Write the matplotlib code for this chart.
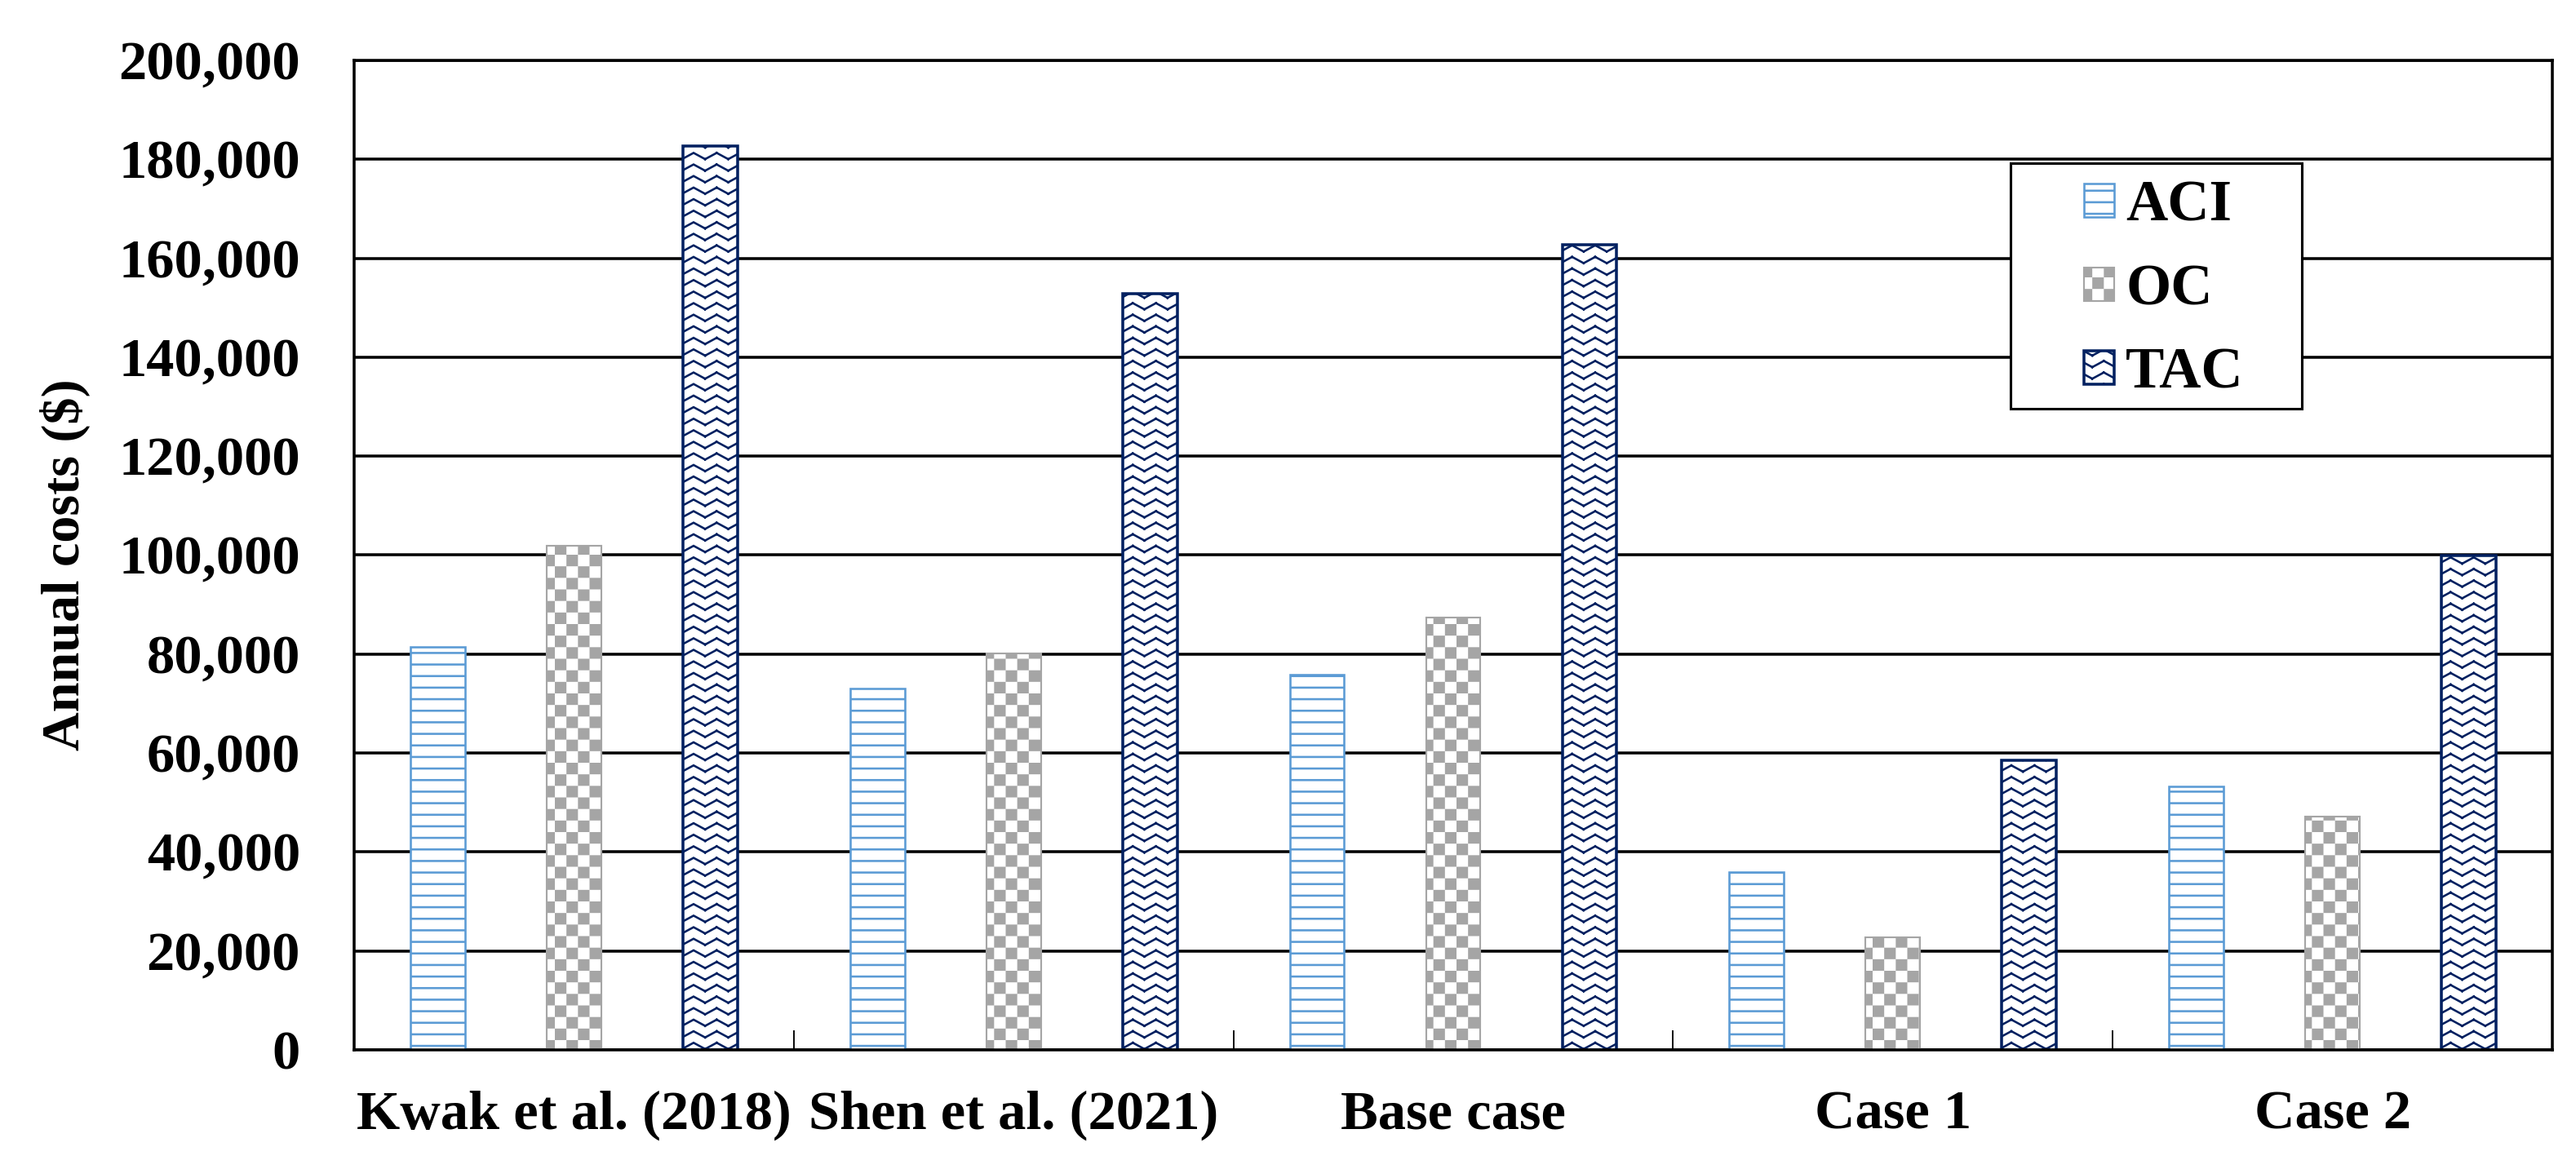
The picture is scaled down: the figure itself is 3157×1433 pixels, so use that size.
import warnings
import numpy as np
import matplotlib
matplotlib.use('Agg')
import matplotlib.pyplot as plt
from matplotlib import hatch as mhatch
from matplotlib.path import Path
from matplotlib.patches import Rectangle
from matplotlib.ticker import FuncFormatter

# ======================= data =======================

categories = ['Kwak et al. (2018)', 'Shen et al. (2021)', 'Base case', 'Case 1', 'Case 2']
series_names = ['ACI', 'OC', 'TAC']
aci = [81400, 73000, 75900, 35900, 53200]
oc = [101900, 80100, 87400, 22700, 47200]
tac = [182700, 152800, 162800, 58500, 99900]
yticks = list(range(0, 200001, 20000))

# ======================= custom hatches =======================
# 'c' -> checkerboard, 'z' -> zigzag (Excel-like pattern fills)


class CheckerHatch(mhatch.HatchPatternBase):

    def __init__(self, hatch, density):
        self.n = hatch.count('c') * density
        self.num_vertices = (self.n * self.n // 2) * 5

    def set_vertices_and_codes(self, vertices, codes):
        n = self.n
        side = 1.0 / n
        trim = plt.rcParams['hatch.linewidth'] / 72.0 / 2
        sq = np.array([[trim, trim], [side - trim, trim],
                       [side - trim, side - trim], [trim, side - trim],
                       [trim, trim]])
        k = 0
        for i in range(n):
            for j in range(n):
                if (i + j) % 2 == 0:
                    vertices[k:k + 5] = sq + [i * side, j * side]
                    codes[k:k + 5] = [Path.MOVETO, Path.LINETO, Path.LINETO,
                                      Path.LINETO, Path.CLOSEPOLY]
                    k += 5


class ZigzagHatch(mhatch.HatchPatternBase):

    def __init__(self, hatch, density):
        self.rows = hatch.count('z') * density
        self.cols = hatch.count('z') * density // 2
        self.num_vertices = self.rows * self.cols * 4

    def set_vertices_and_codes(self, vertices, codes):
        if self.num_vertices == 0:
            return
        dy = 1.0 / self.rows
        p = 1.0 / self.cols
        a = 0.27 * dy
        k = 0
        for j in range(self.rows):
            y0 = (j + 0.5) * dy
            for i in range(self.cols):
                x0 = i * p
                vertices[k:k + 4] = [[x0, y0 + a], [x0 + p / 2, y0 - a],
                                     [x0 + p / 2, y0 - a], [x0 + p, y0 + a]]
                codes[k:k + 4] = [Path.MOVETO, Path.LINETO,
                                  Path.MOVETO, Path.LINETO]
                k += 4


mhatch._hatch_types.append(CheckerHatch)
mhatch._hatch_types.append(ZigzagHatch)
warnings.filterwarnings('ignore', message='hatch must consist')

# ======================= style =======================

plt.rcParams['font.family'] = ['Liberation Serif', 'DejaVu Serif']
plt.rcParams['font.weight'] = 'bold'
plt.rcParams['font.size'] = 29
plt.rcParams['hatch.linewidth'] = 1.1

colors = ['#5B9BD5', '#A5A5A5', '#002060']
hatches = ['--', 'cc', 'zz']
edge_widths = [1.1, 0.9, 1.5]

# ======================= plot =======================

fig = plt.figure(figsize=(3157 / 170, 1433 / 170), dpi=170)
ax = fig.add_axes([0.1375, 0.1019, 0.8533, 0.8465])

x = np.arange(len(categories))
offsets = [-0.31, 0.0, 0.31]
width = 0.124

for vals, name, off, c, h, lw in zip([aci, oc, tac], series_names, offsets,
                                     colors, hatches, edge_widths):
    ax.bar(x + off, vals, width, label=name, facecolor='white',
           edgecolor=c, hatch=h, linewidth=lw, zorder=2)

ax.set_xlim(-0.5, len(categories) - 0.5)
ax.set_ylim(0, 200000)
ax.set_yticks(yticks)
ax.yaxis.set_major_formatter(FuncFormatter(lambda v, pos: '{:,.0f}'.format(v)))
ax.grid(axis='y', color='black', linewidth=1.5, zorder=0.5)
ax.set_axisbelow(True)

ax.set_xticks(x)
ax.set_xticklabels(categories)
ax.set_xticks(x[:-1] + 0.5, minor=True)
ax.tick_params(axis='x', which='major', length=0, pad=21)
ax.tick_params(axis='x', which='minor', direction='in', length=10,
               width=0.8, color='black')
ax.tick_params(axis='y', length=0, pad=28)

for sp in ax.spines.values():
    sp.set_linewidth(1.5)
    sp.set_color('black')

ax.set_ylabel('Annual costs ($)', fontweight='bold', fontsize=28)
ax.yaxis.set_label_coords(-0.12, 0.49)

# legend box (Excel style, extra room on the left)
ax.add_patch(Rectangle((0.7535, 0.648), 0.8860 - 0.7535, 0.8961 - 0.648,
                       transform=ax.transAxes, facecolor='white',
                       edgecolor='black', linewidth=1.3, zorder=4))
leg = ax.legend(loc='center left', bbox_to_anchor=(0.787, 0.7676),
                frameon=False, borderpad=0, borderaxespad=0, labelspacing=0.53,
                handlelength=0.52, handleheight=0.52, handletextpad=0.2,
                prop={'family': ['Liberation Serif'], 'weight': 'bold', 'size': 30})
leg.set_zorder(5)

fig.savefig('out.png', dpi=170)
